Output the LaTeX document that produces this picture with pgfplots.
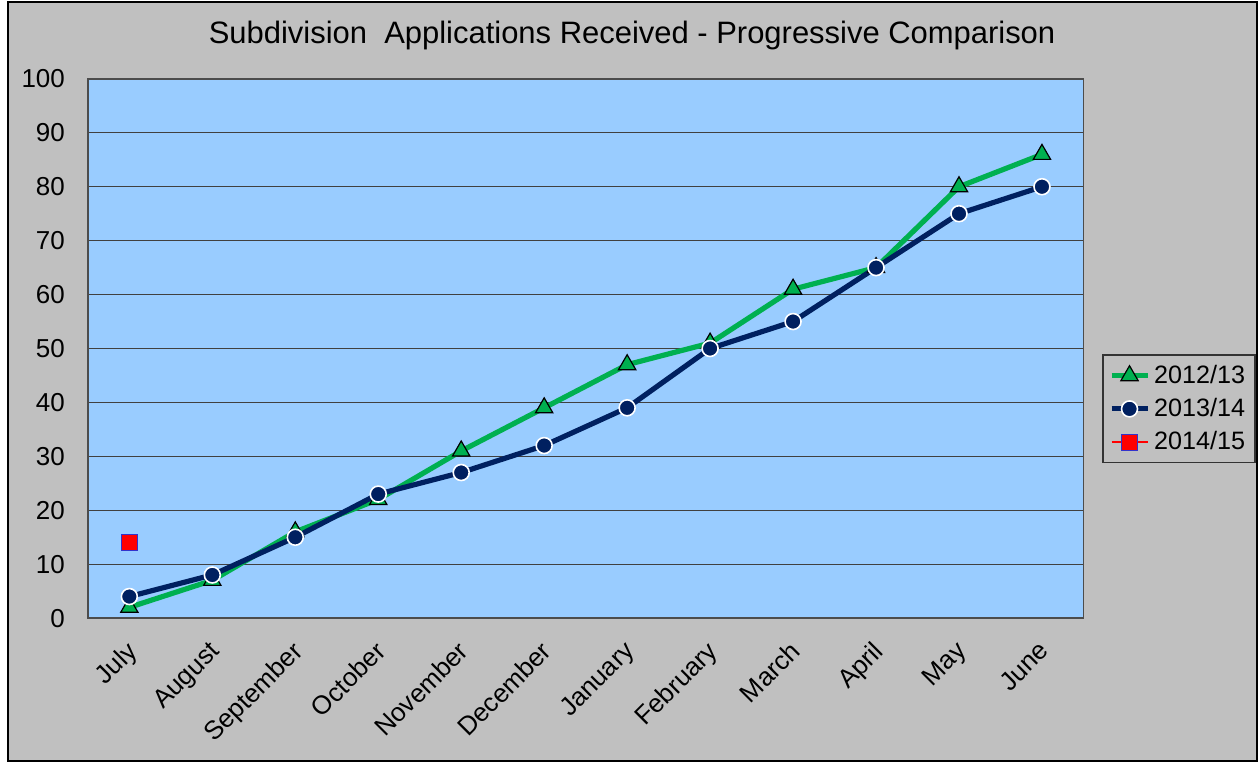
\documentclass[border=0pt]{standalone}
\usepackage{pgfplots}
\pgfplotsset{compat=1.18}
\usepackage{fontspec}
\setmainfont{Liberation Sans}
\definecolor{bg}{HTML}{C0C0C0}
\definecolor{plotbg}{HTML}{99CCFF}
\definecolor{grn}{HTML}{00B050}
\definecolor{navy}{HTML}{002060}
\begin{document}
\begin{tikzpicture}[x=1pt,y=1pt]
\fill[white] (0,0) rectangle (629,381);
\filldraw[fill=bg,draw=black,line width=0.8pt] (4,0) rectangle (629.5,380);
\node[font=\fontsize{15.5}{17}\selectfont] at (316.5,363) {Subdivision\ \ Applications Received - Progressive Comparison};
\begin{axis}[
  at={(44pt,71.5pt)}, anchor=south west,
  scale only axis, width=498.5pt, height=270pt,
  xmin=-0.5, xmax=11.5, ymin=0, ymax=100,
  xtick={0,...,11},
  xticklabels={July,August,September,October,November,December,January,February,March,April,May,June},
  xticklabel style={xshift=-2.2pt, yshift=-9.2pt, rotate=45, anchor=north east, font=\fontsize{13}{15}\selectfont, inner sep=1pt},
  ytick={0,10,...,100},
  yticklabel style={font=\fontsize{13}{15}\selectfont, xshift=-8pt},
  /pgf/number format/assume math mode=true,
  major tick length=0pt,
  ymajorgrids, grid style={black!75, line width=0.6pt},
  axis background/.style={fill=plotbg},
  axis line style={draw=black!70, line width=0.8pt},
  legend style={at={(1.019,0.388)}, anchor=west, fill=bg, draw=black!80, line width=0.6pt,
    font=\fontsize{12.6}{14}\selectfont, row sep=2pt, inner sep=3pt},
  legend cell align=left,
  legend image code/.code={
    \draw[#1] (0pt,0pt) -- (9pt,0pt);
    \draw[#1] (9pt,0pt) -- (18pt,0pt);
    \path[#1, line width=0.6pt] plot coordinates {(9pt,0pt)};
  },
  clip=false,
]
\addplot[grn, line width=2.6pt, mark=triangle*, mark size=5pt,
  mark options={fill=grn, draw=black, line width=0.6pt}]
  coordinates {(0,2) (1,7) (2,16) (3,22) (4,31) (5,39) (6,47) (7,51) (8,61) (9,65) (10,80) (11,86)};
\addlegendentry{2012/13}
\addplot[navy, line width=2.6pt, mark=*, mark size=4pt,
  mark options={fill=navy, draw=white, line width=0.8pt}]
  coordinates {(0,4) (1,8) (2,15) (3,23) (4,27) (5,32) (6,39) (7,50) (8,55) (9,65) (10,75) (11,80)};
\addlegendentry{2013/14}
\addplot[red, line width=1.2pt, mark=square*, mark size=4pt,
  mark options={fill=red, draw=blue!60!gray, line width=0.6pt}]
  coordinates {(0,14)};
\addlegendentry{2014/15}
\end{axis}
\end{tikzpicture}
\end{document}
